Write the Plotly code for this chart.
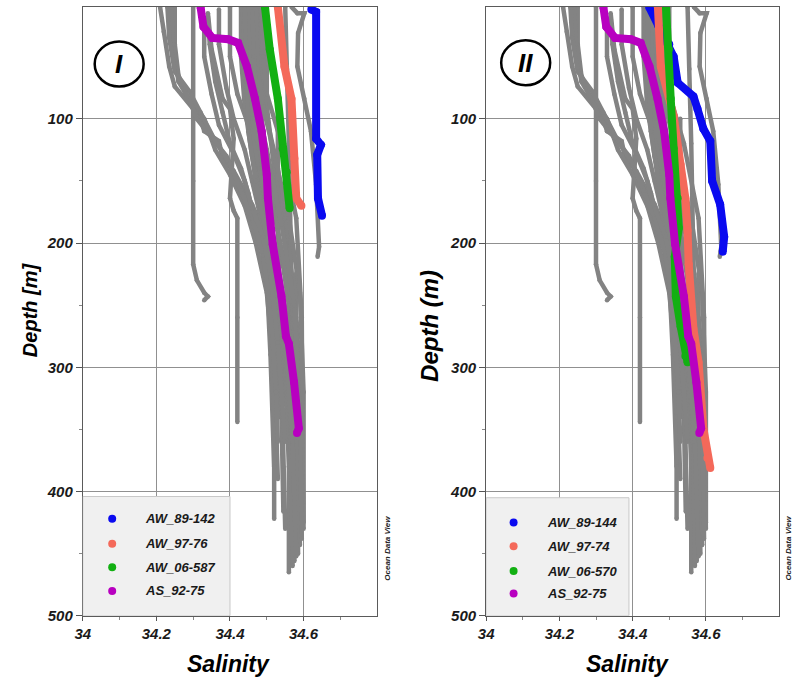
import plotly.graph_objects as go

FONT = "Liberation Sans, Arial, sans-serif"

# ---------------- axes ----------------
sal_ticks = [34, 34.2, 34.4, 34.6]
sal_tick_text = ["34", "34.2", "34.4", "34.6"]
sal_minor = [34.1, 34.3, 34.5, 34.7]
depth_ticks = [100, 200, 300, 400, 500]
depth_minor = [150, 250, 350, 450]

# ---------------- background (gray) profiles, shared by both panels ----------------
gray_sal = [
    [34.21, 34.22, 34.235, 34.25, 34.30, 34.315, 34.33, 34.37, 34.38, 34.41, 34.43, 34.46, 34.49, 34.50, 34.51, 34.52, 34.53, 34.535],
    [34.25, 34.25, 34.26, 34.28, 34.33, 34.36, 34.40, 34.44, 34.47, 34.50, 34.52, 34.53],
    [34.30, 34.30, 34.30, 34.31, 34.33, 34.34, 34.33],
    [34.34, 34.35, 34.38, 34.40, 34.41, 34.40, 34.41, 34.42, 34.42, 34.42],
    [34.44, 34.44, 34.45, 34.47, 34.49, 34.51, 34.52, 34.52],
    [34.45, 34.45, 34.46, 34.48, 34.50, 34.52, 34.54, 34.545],
    [34.46, 34.46, 34.465, 34.47, 34.49, 34.52, 34.55, 34.56, 34.56],
    [34.47, 34.47, 34.48, 34.50, 34.52, 34.55, 34.57, 34.575],
    [34.48, 34.48, 34.49, 34.51, 34.53, 34.56, 34.58, 34.59],
    [34.49, 34.49, 34.50, 34.53, 34.55, 34.57, 34.59, 34.59],
    [34.55, 34.555, 34.56, 34.565, 34.57, 34.58, 34.58],
    [34.567, 34.583, 34.602, 34.585, 34.583, 34.602, 34.62, 34.634, 34.642, 34.638],
    [34.24, 34.245, 34.26, 34.29, 34.31, 34.35, 34.39, 34.42, 34.45, 34.48, 34.50, 34.51, 34.52],
    [34.34, 34.345, 34.36, 34.38, 34.40, 34.43, 34.45, 34.47, 34.49, 34.51, 34.52],
    [34.37, 34.37, 34.39, 34.41, 34.44, 34.46, 34.48, 34.50, 34.52, 34.53],
    [34.40, 34.40, 34.42, 34.45, 34.47, 34.49, 34.51, 34.53, 34.55],
    [34.50, 34.50, 34.52, 34.55, 34.57, 34.58, 34.59],
    [34.53, 34.53, 34.535, 34.54, 34.545, 34.55],
    [34.585, 34.58, 34.58, 34.585],
    [34.43, 34.43, 34.44, 34.46, 34.50, 34.54, 34.565, 34.57],
    [34.435, 34.44, 34.45, 34.48, 34.52, 34.56, 34.58, 34.585],
    [34.455, 34.455, 34.46, 34.49, 34.53, 34.57, 34.595, 34.60],
    [34.47, 34.475, 34.49, 34.52, 34.56, 34.59, 34.60, 34.60],
    [34.485, 34.49, 34.50, 34.54, 34.58, 34.595, 34.598],
    [34.44, 34.445, 34.45, 34.47, 34.51, 34.55, 34.57, 34.58],
    [34.46, 34.465, 34.47, 34.50, 34.54, 34.575, 34.59, 34.595],
    [34.23, 34.235, 34.25, 34.29, 34.32, 34.36, 34.40, 34.43, 34.46, 34.49, 34.51, 34.525],
    [34.33, 34.33, 34.35, 34.37, 34.41, 34.44, 34.46, 34.49, 34.51, 34.53, 34.55],
]
gray_depth = [
    [10, 30, 58, 74, 92, 95, 110, 118, 132, 142, 153, 169, 190, 211, 243, 275, 307, 340],
    [10, 40, 65, 80, 100, 125, 145, 170, 200, 240, 300, 390],
    [10, 150, 217, 230, 240, 243, 246],
    [15, 44, 84, 92, 116, 164, 174, 180, 260, 344],
    [10, 60, 100, 150, 200, 260, 330, 422],
    [10, 70, 110, 160, 210, 270, 340, 416],
    [10, 80, 110, 150, 190, 240, 300, 380, 465],
    [10, 90, 120, 160, 200, 260, 340, 456],
    [10, 80, 110, 150, 190, 250, 320, 443],
    [10, 70, 100, 140, 180, 230, 300, 420],
    [10, 60, 120, 200, 280, 360, 440],
    [10, 15, 15, 31, 58, 84, 110, 153, 203, 211],
    [10, 40, 70, 85, 100, 115, 130, 150, 170, 195, 230, 290, 380],
    [18, 40, 70, 95, 120, 140, 160, 185, 210, 260, 340],
    [12, 40, 75, 100, 125, 150, 175, 210, 270, 360],
    [10, 50, 80, 105, 130, 160, 200, 260, 330],
    [10, 90, 140, 200, 260, 330, 400],
    [100, 180, 250, 320, 380, 430],
    [216, 225, 260, 276],
    [10, 50, 90, 130, 190, 260, 350, 460],
    [10, 60, 95, 140, 200, 270, 360, 450],
    [10, 70, 100, 140, 190, 250, 330, 430],
    [10, 60, 90, 130, 180, 240, 320, 425],
    [10, 50, 80, 120, 180, 260, 410],
    [10, 70, 110, 150, 210, 280, 360, 452],
    [10, 50, 85, 125, 185, 250, 340, 438],
    [10, 35, 62, 78, 95, 118, 136, 158, 180, 210, 250, 320],
    [20, 50, 80, 105, 128, 150, 172, 195, 225, 280, 360],
]

# ---------------- highlighted profiles ----------------
# shared magenta profile AS_92-75
mag_sal = [34.320, 34.328, 34.352, 34.395, 34.422, 34.446, 34.468, 34.486, 34.500, 34.503, 34.516, 34.540, 34.552, 34.560, 34.574, 34.587, 34.582]
mag_depth = [10, 26, 35, 36, 39, 58, 84, 110, 145, 164, 201, 243, 275, 281, 312, 349, 353]

# Panel I
blue1_sal = [34.621, 34.634, 34.634, 34.647, 34.637, 34.639, 34.650]
blue1_depth = [12, 14, 116, 121, 129, 164, 178]
salmon1_sal = [34.530, 34.548, 34.567, 34.575, 34.580, 34.594]
salmon1_depth = [10, 58, 84, 132, 164, 170]
green1_sal = [34.495, 34.508, 34.530, 34.543, 34.554, 34.562]
green1_depth = [10, 44, 84, 124, 143, 172]
names1 = ["AW_89-142", "AW_97-76", "AW_06-587", "AS_92-75"]

# Panel II
blue2_sal = [34.445, 34.47, 34.50, 34.512, 34.523, 34.566, 34.577, 34.593, 34.612, 34.617, 34.639, 34.650, 34.646]
blue2_depth = [10, 25, 40, 50, 71, 82, 92, 108, 118, 150, 169, 195, 207]
salmon2_sal = [34.469, 34.477, 34.512, 34.531, 34.544, 34.550, 34.553, 34.566, 34.580, 34.593, 34.604, 34.612]
salmon2_depth = [10, 58, 98, 137, 164, 190, 217, 269, 296, 349, 373, 381]
green2_sal = [34.491, 34.499, 34.504, 34.512, 34.523, 34.526, 34.515, 34.518, 34.531, 34.544, 34.550]
green2_depth = [10, 44, 84, 124, 164, 188, 211, 243, 267, 291, 296]
names2 = ["AW_89-144", "AW_97-74", "AW_06-570", "AS_92-75"]

colors = ["#0a0af0", "#f4695a", "#12b012", "#b800c0"]
GRAY = "#838383"

fig = go.Figure()

def add_panel(xa, ya, series):
    for s, d in zip(gray_sal, gray_depth):
        fig.add_trace(go.Scatter(x=s, y=d, xaxis=xa, yaxis=ya, mode="lines+markers",
                                 line=dict(color=GRAY, width=4.5), marker=dict(color=GRAY, size=4.5),
                                 showlegend=False, hoverinfo="skip"))
    for (s, d), c in zip(series, colors):
        fig.add_trace(go.Scatter(x=s, y=d, xaxis=xa, yaxis=ya, mode="lines+markers",
                                 line=dict(color=c, width=8), marker=dict(color=c, size=8),
                                 showlegend=False, hoverinfo="skip"))

add_panel("x", "y", [(blue1_sal, blue1_depth), (salmon1_sal, salmon1_depth),
                     (green1_sal, green1_depth), (mag_sal, mag_depth)])
add_panel("x2", "y2", [(blue2_sal, blue2_depth), (salmon2_sal, salmon2_depth),
                       (green2_sal, green2_depth), (mag_sal, mag_depth)])

W, H = 793, 690
tickfont = dict(family=FONT, size=15, color="#1a1a1a", weight="bold", style="italic")

def xcfg(domain, anchor):
    return dict(domain=domain, anchor=anchor, range=[34, 34.8], tickvals=sal_ticks,
                ticktext=sal_tick_text, ticks="outside", ticklen=4, tickcolor="#555",
                showline=True, linecolor="#5a5a5a", linewidth=1, mirror=True,
                showgrid=True, gridcolor="#909090", gridwidth=1, zeroline=False,
                tickfont=tickfont,
                minor=dict(tickvals=sal_minor, ticks="outside", ticklen=3, tickcolor="#888", showgrid=False))

def ycfg(domain, anchor):
    return dict(domain=domain, anchor=anchor, range=[500, 10], tickvals=depth_ticks,
                ticks="outside", ticklen=6, tickcolor="#555",
                showline=True, linecolor="#5a5a5a", linewidth=1, mirror=True,
                showgrid=True, gridcolor="#909090", gridwidth=1, zeroline=False,
                tickfont=tickfont,
                minor=dict(tickvals=depth_minor, ticks="outside", ticklen=3, tickcolor="#888", showgrid=False))

ydom = [1 - 623 / H, 1 - 7 / H]
fig.update_layout(
    width=W, height=H, margin=dict(l=0, r=0, t=0, b=0),
    paper_bgcolor="white", plot_bgcolor="white", showlegend=False,
    xaxis=xcfg([75.5 / W, 373 / W], "y"),
    yaxis=ycfg(ydom, "x"),
    xaxis2=xcfg([483 / W, 779 / W], "y2"),
    yaxis2=ycfg(ydom, "x2"),
)

shapes = []
annotations = []

def legend(xr, yr, top, dot_x, text_x, ys, names, x1):
    shapes.append(dict(type="rect", xref=xr, yref=yr, x0=34, x1=x1, y0=500, y1=top,
                       fillcolor="#f0f0f0", line=dict(color="#c8c8c8", width=1), layer="above"))
    for yv, nm, c in zip(ys, names, colors):
        shapes.append(dict(type="circle", xref=xr, yref=yr, xsizemode="pixel", ysizemode="pixel",
                           xanchor=dot_x, yanchor=yv, x0=-4, x1=4, y0=-4, y1=4,
                           fillcolor=c, line=dict(color=c, width=0), layer="above"))
        annotations.append(dict(xref=xr, yref=yr, x=text_x, y=yv, xanchor="left", yanchor="middle",
                                text=nm, showarrow=False,
                                font=dict(family=FONT, size=13, color="#1a1a1a", weight="bold", style="italic")))

legend("x", "y", 404, 34.08, 34.165, [422, 442, 461, 480], names1, 34.4)
legend("x2", "y2", 405, 34.075, 34.16, [425, 444, 464, 482], names2, 34.39)

def roman(xr, yr, cx, cy, label):
    shapes.append(dict(type="circle", xref=xr, yref=yr, xsizemode="pixel", ysizemode="pixel",
                       xanchor=cx, yanchor=cy, x0=-24.5, x1=24.5, y0=-22.5, y1=22.5,
                       line=dict(color="black", width=2.5), fillcolor="rgba(0,0,0,0)", layer="above"))
    annotations.append(dict(xref=xr, yref=yr, x=cx, y=cy, text=label, showarrow=False,
                            xanchor="center", yanchor="middle",
                            font=dict(family=FONT, size=26, color="black", weight="bold", style="italic")))

roman("x", "y", 34.099, 56, "I")
roman("x2", "y2", 34.108, 55, "II")

title_font = dict(family=FONT, color="black", weight="bold", style="italic")
annotations += [
    dict(xref="paper", yref="paper", x=223 / W, y=1 - 672 / H, text="Salinity", showarrow=False,
         xanchor="center", yanchor="middle", font=dict(title_font, size=23)),
    dict(xref="paper", yref="paper", x=626 / W, y=1 - 672 / H, text="Salinity", showarrow=False,
         xanchor="center", yanchor="middle", font=dict(title_font, size=23)),
    dict(xref="paper", yref="paper", x=23 / W, y=1 - 313 / H, text="Depth [m]", showarrow=False,
         textangle=-90, xanchor="center", yanchor="middle", font=dict(title_font, size=20)),
    dict(xref="paper", yref="paper", x=425 / W, y=1 - 330 / H, text="Depth (m)", showarrow=False,
         textangle=-90, xanchor="center", yanchor="middle", font=dict(title_font, size=24)),
    dict(xref="paper", yref="paper", x=383 / W, y=1 - 555 / H, text="Ocean Data View", showarrow=False,
         textangle=-90, xanchor="center", yanchor="middle",
         font=dict(family=FONT, size=8, color="#222", weight="bold", style="italic")),
    dict(xref="paper", yref="paper", x=789 / W, y=1 - 555 / H, text="Ocean Data View", showarrow=False,
         textangle=-90, xanchor="center", yanchor="middle",
         font=dict(family=FONT, size=8, color="#222", weight="bold", style="italic")),
]

fig.update_layout(shapes=shapes, annotations=annotations)
fig.write_html("out.html")
